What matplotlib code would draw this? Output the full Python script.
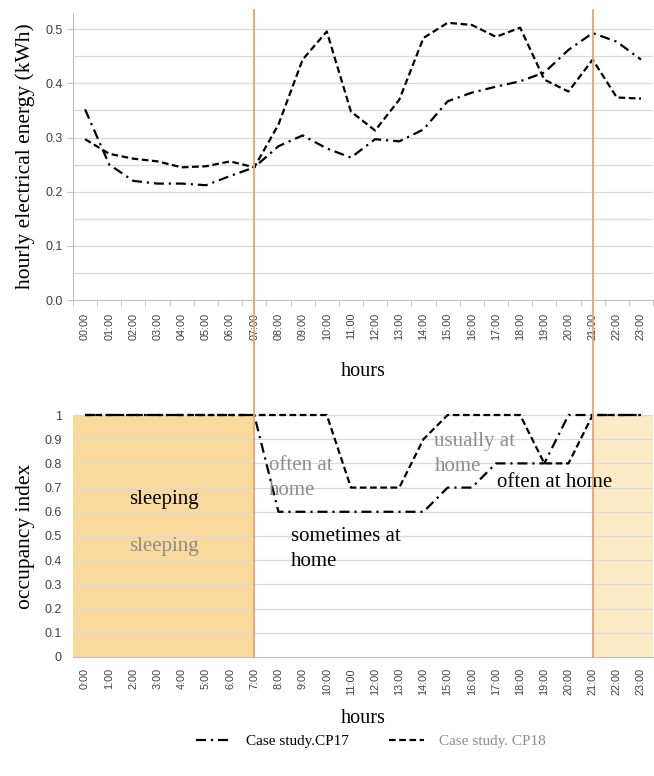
import numpy as np
import matplotlib
matplotlib.use('Agg')
import matplotlib.pyplot as plt
from matplotlib.lines import Line2D
from matplotlib.transforms import blended_transform_factory

hours_top = ['%02d:00' % h for h in range(24)]
hours_bot = ['%d:00' % h for h in range(24)]

# hourly electrical energy (kWh)
energy_cp17 = [0.352, 0.25, 0.22, 0.215, 0.215, 0.212, 0.229, 0.245, 0.284, 0.304,
               0.28, 0.263, 0.297, 0.293, 0.315, 0.367, 0.383, 0.394, 0.404, 0.42,
               0.462, 0.493, 0.477, 0.444]
energy_cp18 = [0.297, 0.27, 0.261, 0.256, 0.245, 0.247, 0.256, 0.245, 0.324, 0.444,
               0.496, 0.348, 0.313, 0.37, 0.484, 0.512, 0.508, 0.486, 0.503, 0.407,
               0.385, 0.444, 0.374, 0.372]

# occupancy index
occ_cp17 = [1, 1, 1, 1, 1, 1, 1, 1, 0.6, 0.6, 0.6, 0.6, 0.6, 0.6, 0.6, 0.7, 0.7,
            0.8, 0.8, 0.8, 1, 1, 1, 1]
occ_cp18 = [1, 1, 1, 1, 1, 1, 1, 1, 1, 1, 1, 0.7, 0.7, 0.7, 0.9, 1, 1, 1, 1, 0.8,
            0.8, 1, 1, 1]

wake_hour = 7
bed_hour = 21

serif = 'Liberation Serif'
sans = 'Liberation Sans'
grid_c = '#d9d9d9'
axis_c = '#bfbfbf'
tick_c = '#404040'
gray_txt = '#8c8c8c'
orange = '#eda263'

dash18 = (0, (3, 1.6))
dash17 = (0, (4.5, 2.2, 1, 2.2))

fig = plt.figure(figsize=(6.54, 7.76), dpi=100)
ax1 = fig.add_axes([0.1116, 0.6134, 0.887, 0.3698])
ax2 = fig.add_axes([0.1116, 0.1534, 0.887, 0.3118])

x = np.arange(24)

# --- energy ---
ax1.plot(x, energy_cp17, color='black', lw=1.6, linestyle=dash17)
ax1.plot(x, energy_cp18, color='black', lw=1.6, linestyle=dash18)
ax1.set_xlim(-0.5, 23.5)
ax1.set_ylim(0, 0.53)
ax1.set_yticks(np.arange(0, 0.51, 0.1))
ax1.set_yticklabels(['%.1f' % v for v in np.arange(0, 0.51, 0.1)])
for g in np.arange(0.05, 0.51, 0.05):
    ax1.axhline(g, color=grid_c, lw=0.9, zorder=0)
ax1.set_xticks(x)
ax1.set_xticklabels(hours_top, rotation=90)
ax1.set_xticks(np.arange(-0.5, 24, 1), minor=True)
ax1.tick_params(axis='x', which='major', length=0, pad=9, labelsize=7.8, labelcolor=tick_c)
ax1.tick_params(axis='x', which='minor', length=4, color=axis_c, direction='out')
ax1.tick_params(axis='y', length=4, color=axis_c, labelsize=9, labelcolor=tick_c)
for s in ['top', 'right']:
    ax1.spines[s].set_visible(False)
ax1.spines['left'].set_color(axis_c)
ax1.spines['bottom'].set_color(axis_c)
ax1.set_ylabel('hourly electrical energy (kWh)', fontsize=15.5, family=serif, labelpad=7)
ax1.set_xlabel('hours', fontsize=14.5, family=serif, labelpad=16)
for lab in ax1.get_xticklabels() + ax1.get_yticklabels():
    lab.set_family(sans)

# --- occupancy ---
ax2.axvspan(-0.5, wake_hour, color='#fad99c', lw=0, zorder=0)
ax2.axvspan(bed_hour, 23.5, color='#fdebc8', lw=0, zorder=0)
for g in np.arange(0.1, 1.01, 0.1):
    ax2.axhline(g, color=grid_c, lw=0.9, zorder=1)
ax2.plot(x, occ_cp17, color='black', lw=1.6, linestyle=dash17, zorder=3, clip_on=False)
ax2.plot(x, occ_cp18, color='black', lw=1.6, linestyle=dash18, zorder=3, clip_on=False)
ax2.set_xlim(-0.5, 23.5)
ax2.set_ylim(0, 1)
yt = np.round(np.arange(0, 1.01, 0.1), 1)
ax2.set_yticks(yt)
ax2.set_yticklabels(['0' if v == 0 else ('1' if v == 1 else '%.1f' % v) for v in yt])
ax2.set_xticks(x)
ax2.set_xticklabels(hours_bot, rotation=90)
ax2.tick_params(axis='x', length=0, pad=8, labelsize=7.8, labelcolor=tick_c)
ax2.tick_params(axis='y', length=0, pad=8, labelsize=9, labelcolor=tick_c)
for s in ['top', 'right', 'left']:
    ax2.spines[s].set_visible(False)
ax2.spines['bottom'].set_color(axis_c)
ax2.set_ylabel('occupancy index', fontsize=15.5, family=serif, labelpad=7)
ax2.set_xlabel('hours', fontsize=14.5, family=serif, labelpad=10)
for lab in ax2.get_xticklabels() + ax2.get_yticklabels():
    lab.set_family(sans)

# activity labels
txt = dict(family=serif, fontsize=15, zorder=4, linespacing=1.45)
ax2.text(3.26, 0.65, 'sleeping', ha='center', va='center', color='black', **txt)
ax2.text(3.26, 0.455, 'sleeping', ha='center', va='center', color=gray_txt, **txt)
ax2.text(7.6, 0.74, 'often at\nhome', ha='left', va='center', color=gray_txt, **txt)
ax2.text(8.5, 0.445, 'sometimes at\nhome', ha='left', va='center', color='black', **txt)
ax2.text(14.45, 0.84, 'usually at\nhome', ha='left', va='center', color=gray_txt, **txt)
ax2.text(17.05, 0.72, 'often at home', ha='left', va='center', color='black', **txt)

# wake / bed time markers running through both panels
bottom = ax2.get_position().y0
top = ax1.get_position().y1 + 0.004
trans = blended_transform_factory(ax1.transData, fig.transFigure)
for h in (wake_hour, bed_hour):
    fig.add_artist(Line2D([h, h], [bottom, top], transform=trans,
                          color=orange, lw=1.3, zorder=5))

handles = [Line2D([], [], color='black', lw=1.6, linestyle=dash17),
           Line2D([], [], color='black', lw=1.6, linestyle=dash18)]
leg = fig.legend(handles, ['Case study.CP17', 'Case study. CP18'], loc='center',
                 bbox_to_anchor=(0.567, 0.045), ncol=2, frameon=False,
                 handlelength=2.3, columnspacing=2.6, handletextpad=1.0,
                 prop={'family': serif, 'size': 11})
leg.get_texts()[1].set_color(gray_txt)

fig.savefig('out.png', dpi=100)
